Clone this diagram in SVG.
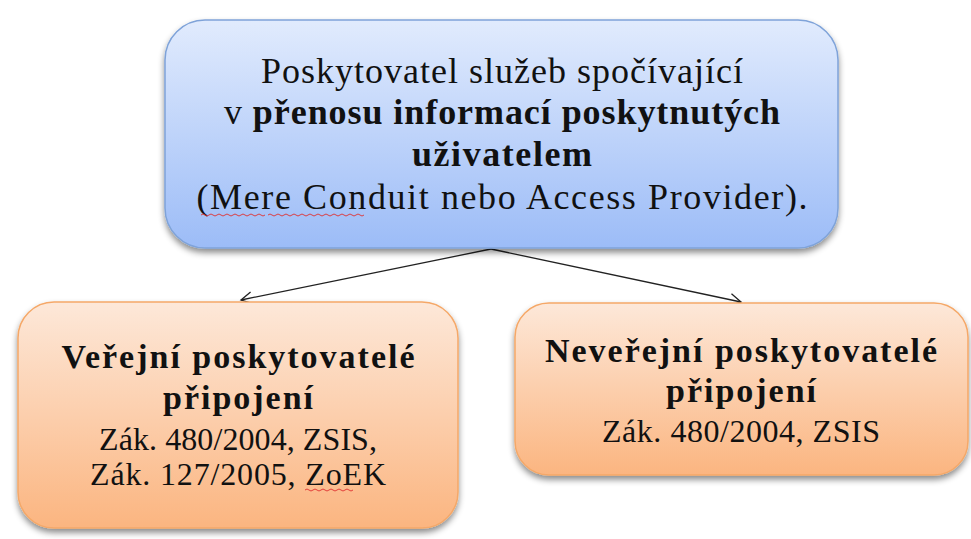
<svg xmlns="http://www.w3.org/2000/svg" width="971" height="539" viewBox="0 0 971 539">
<style>
.t{font-family:"Liberation Serif","Times New Roman",serif;fill:#111;text-anchor:middle}
.b{font-weight:bold}
.edge{stroke:#222;stroke-width:1.3;fill:none}
.sq{stroke:#e03030;stroke-width:0.9;fill:none}
</style>
<defs>
<linearGradient id="gb" x1="0" y1="0" x2="0" y2="1">
<stop offset="0" stop-color="#e1ebfd"/>
<stop offset="1" stop-color="#9cbcf7"/>
</linearGradient>
<linearGradient id="go" x1="0" y1="0" x2="0" y2="1">
<stop offset="0" stop-color="#fde8d9"/>
<stop offset="1" stop-color="#fbb580"/>
</linearGradient>
<filter id="sh" x="-10%" y="-10%" width="120%" height="125%">
<feDropShadow dx="0" dy="4" stdDeviation="3" flood-color="#000" flood-opacity="0.45"/>
</filter>
<marker id="ar" markerWidth="14" markerHeight="14" refX="12" refY="7" orient="auto" markerUnits="userSpaceOnUse">
<path d="M1,1 L12,7 L1,13" fill="none" stroke="#222" stroke-width="1.3"/>
</marker>
</defs>
<g id="connectors">
<line class="edge" x1="491" y1="249" x2="241" y2="300" marker-end="url(#ar)"/>
<line class="edge" x1="491" y1="249" x2="741" y2="302" marker-end="url(#ar)"/>
</g>
<g id="top">
<rect x="165" y="20" width="673" height="228" rx="40" fill="url(#gb)" stroke="#7fa3d9" stroke-width="1.5" filter="url(#sh)"/>
<text class="t" font-size="36" x="502" y="83" textLength="482" lengthAdjust="spacing">Poskytovatel  služeb spočívající</text>
<text class="t" font-size="36" x="502" y="124" textLength="556" lengthAdjust="spacing">v <tspan class="b">přenosu informací poskytnutých</tspan></text>
<text class="t b" font-size="36" x="502" y="166" textLength="180" lengthAdjust="spacing">uživatelem</text>
<text class="t" font-size="36" x="502" y="209" textLength="611" lengthAdjust="spacing">(Mere Conduit nebo Access Provider).</text>
<path class="sq" d="M201,215 q2,-2 4,0 t4,0 t4,0 t4,0 t4,0 t4,0 t4,0 t4,0 t4,0 t4,0 t4,0 t4,0 t4,0 t4,0 t4,0 t4,0"/>
<path class="sq" d="M268,215 q2,-2 4,0 t4,0 t4,0 t4,0 t4,0 t4,0 t4,0 t4,0 t4,0 t4,0 t4,0 t4,0 t4,0 t4,0 t4,0 t4,0 t4,0 t4,0 t4,0 t4,0 t4,0 t4,0 t4,0 t4,0"/>
</g>
<g id="left">
<rect x="18" y="302" width="440" height="226" rx="36" fill="url(#go)" stroke="#f5a868" stroke-width="1.5" filter="url(#sh)"/>
<text class="t b" font-size="34" x="238" y="368" textLength="353" lengthAdjust="spacing">Veřejní poskytovatelé</text>
<text class="t b" font-size="34" x="238" y="409" textLength="150" lengthAdjust="spacing">připojení</text>
<text class="t" font-size="32" x="238" y="450" textLength="278" lengthAdjust="spacing">Zák. 480/2004, ZSIS,</text>
<text class="t" font-size="32" x="238" y="485" textLength="296" lengthAdjust="spacing">Zák. 127/2005, ZoEK</text>
<path class="sq" d="M305,490 q2,-2 4,0 t4,0 t4,0 t4,0 t4,0 t4,0 t4,0 t4,0 t4,0 t4,0 t4,0 t4,0"/>
</g>
<g id="right">
<rect x="515" y="303" width="453" height="172" rx="34" fill="url(#go)" stroke="#f5a868" stroke-width="1.5" filter="url(#sh)"/>
<text class="t b" font-size="34" x="741" y="362" textLength="392" lengthAdjust="spacing">Neveřejní poskytovatelé</text>
<text class="t b" font-size="34" x="741" y="402" textLength="150" lengthAdjust="spacing">připojení</text>
<text class="t" font-size="32" x="741" y="442" textLength="278" lengthAdjust="spacing">Zák. 480/2004, ZSIS</text>
</g>
</svg>
